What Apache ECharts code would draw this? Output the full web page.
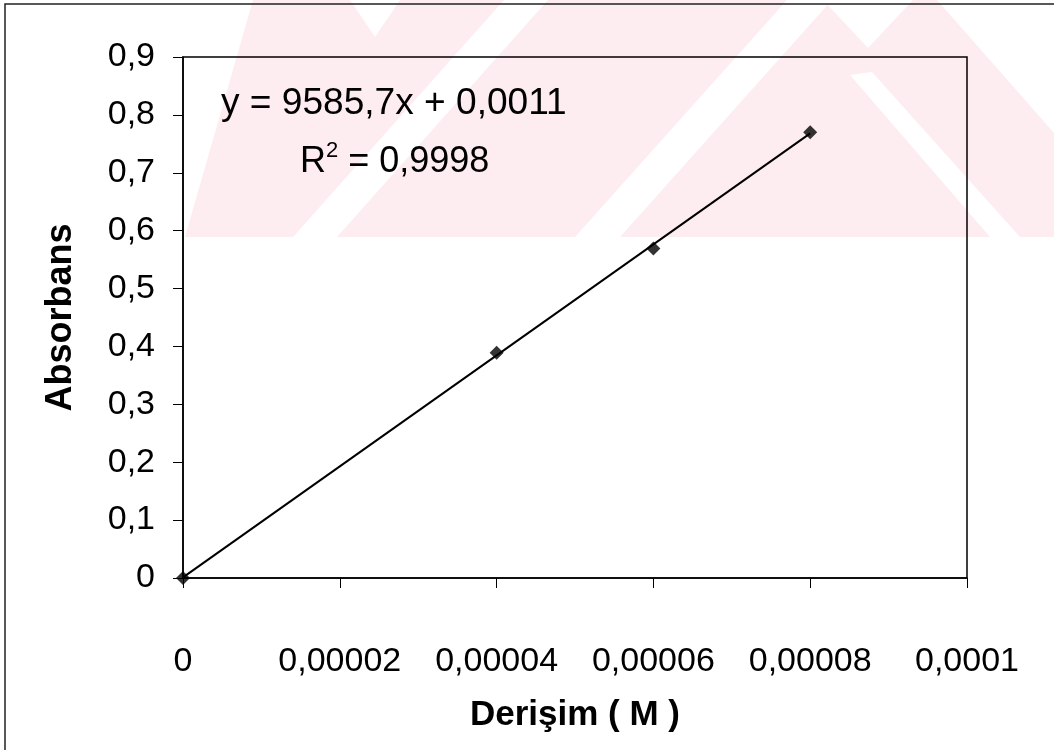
<!DOCTYPE html>
<html>
<head>
<meta charset="utf-8">
<script src="https://cdn.jsdelivr.net/npm/echarts@6/dist/echarts.min.js"></script>
<style>
html,body{margin:0;padding:0;background:#fff;}
#chart{width:1054px;height:750px;}
</style>
</head>
<body>
<div id="chart"></div>
<script>
// ---- data ----
const concentrations = [0, 0.00004, 0.00006, 0.00008];
const absorbances = [0, 0.389, 0.569, 0.770];
const trendX = [0, 0.00008];
const trendY = [0.0011, 0.768];
const xTickLabels = ['0', '0,00002', '0,00004', '0,00006', '0,00008', '0,0001'];
const yTickLabels = ['0', '0,1', '0,2', '0,3', '0,4', '0,5', '0,6', '0,7', '0,8', '0,9'];
const equationText = 'y = 9585,7x + 0,0011';
const r2Value = '0,9998';
const xTitle = 'Derişim ( M )';
const yTitle = 'Absorbans';

const FONT = '"Liberation Sans", Arial, sans-serif';
const pink = '#fdedf0';

const chart = echarts.init(document.getElementById('chart'), null, {renderer: 'canvas'});

// faint watermark in the background (decoration)
function shape(points, fill, z){
  return {type:'polygon', z:z, silent:true, shape:{points}, style:{fill:fill}};
}
const watermark = [
  shape([[185,237],[253,0],[937,0],[1054,133],[1054,237]], pink, -10),
  shape([[350,0],[400,0],[375,37]], '#fff', -9),
  shape([[293,237],[337,237],[548,0],[504,0]], '#fff', -9),
  shape([[575,237],[620,237],[832,0],[787,0]], '#fff', -9),
  shape([[823,0],[913,0],[868,48]], '#fff', -9),
  shape([[850,75],[872,72],[1020,237],[990,237]], '#fff', -9)
];

const option = {
  backgroundColor: '#fff',
  animation: false,
  grid: {left:183, top:57, width:784, height:521, show:true, borderColor:'#000', borderWidth:1.5, backgroundColor:'transparent'},
  xAxis: {
    type:'value', min:0, max:0.0001, interval:0.00002,
    axisLine:{show:true, lineStyle:{color:'#000', width:1.5}},
    axisTick:{show:true, inside:false, length:10, lineStyle:{color:'#000', width:1}},
    splitLine:{show:false},
    axisLabel:{color:'#000', fontFamily:FONT, fontSize:34, margin:67,
      formatter: v => xTickLabels[Math.round(v/0.00002)]},
    name:xTitle, nameLocation:'middle', nameGap:120,
    nameTextStyle:{color:'#000', fontFamily:FONT, fontSize:35, fontWeight:'bold'}
  },
  yAxis: {
    type:'value', min:0, max:0.9, interval:0.1,
    axisLine:{show:true, lineStyle:{color:'#000', width:1.5}},
    axisTick:{show:true, inside:false, length:10, lineStyle:{color:'#000', width:1}},
    splitLine:{show:false},
    axisLabel:{color:'#000', fontFamily:FONT, fontSize:34, margin:28,
      formatter: v => yTickLabels[Math.round(v/0.1)]},
    name:yTitle, nameLocation:'middle', nameGap:104,
    nameTextStyle:{color:'#000', fontFamily:FONT, fontSize:36, fontWeight:'bold'}
  },
  series: [
    {type:'line', data: trendX.map((x,i)=>[x, trendY[i]]), symbol:'none',
      lineStyle:{color:'#000', width:2}, z:2},
    {type:'scatter', data: concentrations.map((x,i)=>[x, absorbances[i]]), symbol:'diamond',
      symbolSize:14, itemStyle:{color:'#000'}, z:3}
  ],
  graphic: [
    ...watermark,
    {type:'rect', z:5, silent:true, shape:{x:5, y:4, width:1100, height:800},
      style:{fill:'none', stroke:'#222', lineWidth:1.5}},
    {type:'text', z:6, x:221, y:104, scaleX:1.03,
      style:{text:equationText, font:'36px '+FONT, fill:'#000', textAlign:'left', textVerticalAlign:'middle'}},
    {type:'text', z:6, x:300, y:160, scaleX:1.0,
      style:{text:'{a|R}{s|2}{a| = ' + r2Value + '}', fill:'#000', textAlign:'left', textVerticalAlign:'middle',
        rich:{a:{fontFamily:FONT, fontSize:36, verticalAlign:'bottom', lineHeight:40},
              s:{fontFamily:FONT, fontSize:22, verticalAlign:'top', lineHeight:40}}}}
  ]
};
chart.setOption(option);
</script>
</body>
</html>
